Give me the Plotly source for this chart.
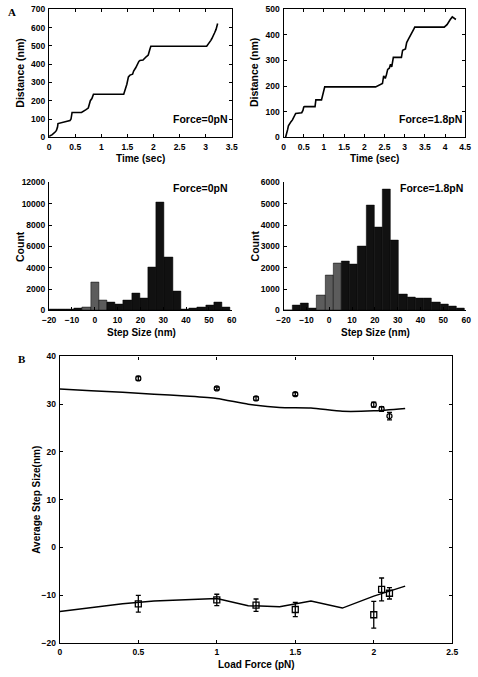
import plotly.graph_objects as go

# ---------------- data ----------------
# Panel A: single-molecule traces
time_0pN = [0.00, 0.06, 0.12, 0.14, 0.16, 0.17, 0.40, 0.42, 0.44, 0.62, 0.70, 0.75, 0.76, 0.79, 0.82, 0.83,
            0.85, 1.43, 1.46, 1.49, 1.52, 1.55, 1.60, 1.62, 1.66, 1.68, 1.72, 1.74, 1.80, 1.86, 1.90, 1.93,
            1.95, 3.02, 3.06, 3.10, 3.12, 3.15, 3.17, 3.20, 3.22, 3.23]
dist_0pN = [5, 15, 30, 38, 55, 75, 92, 100, 136, 136, 150, 160, 170, 200, 212, 225,
            235, 235, 260, 290, 330, 340, 345, 362, 380, 395, 415, 420, 422, 440, 450, 480,
            498, 498, 512, 530, 540, 555, 570, 590, 605, 622]

time_18pN = [0.05, 0.08, 0.10, 0.12, 0.15, 0.18, 0.22, 0.25, 0.28, 0.30, 0.45, 0.48, 0.50, 0.52, 0.78, 0.80,
             0.94, 0.96, 0.98, 1.00, 1.02, 2.28, 2.45, 2.48, 2.52, 2.55, 2.58, 2.62, 2.65, 2.68, 2.72,
             2.92, 2.95, 3.02, 3.05, 3.10, 3.14, 3.18, 3.22, 3.25, 3.98, 4.05, 4.10, 4.13, 4.18, 4.22, 4.27]
dist_18pN = [0, 15, 30, 45, 55, 60, 68, 80, 90, 93, 96, 105, 118, 120, 120, 146,
             146, 160, 175, 190, 197, 197, 210, 240, 230, 245, 265, 270, 285, 275, 312,
             312, 340, 345, 370, 385, 395, 410, 420, 430, 430, 440, 455, 460, 470, 465, 460]

# Step-size histograms (bin centres, nm)
bin_centers = [-18, -14.4, -10.8, -7.2, -3.6, 0, 3.6, 7.2, 10.8, 14.4, 18, 21.6, 25.2, 28.8,
               32.4, 36, 39.6, 43.2, 46.8, 50.4, 54, 57.6]
counts_0pN = [80, 80, 130, 150, 300, 2600, 900, 750, 600, 950, 1600, 1100, 4000, 10100,
              5000, 1800, 100, 200, 300, 500, 750, 250]
counts_18pN = [0, 260, 310, 100, 700, 1650, 2200, 2300, 2150, 3000, 4900, 3900, 5650, 3300,
               750, 600, 580, 580, 400, 300, 200, 100]
gray_bins = [-3.6, 0, 3.6]

# Panel B
load_force = [0.5, 1.0, 1.25, 1.5, 2.0, 2.05, 2.1]
fwd_step = [35.4, 33.3, 31.2, 32.1, 29.9, 29.0, 27.5]
fwd_err = [0.4, 0.3, 0.4, 0.3, 0.5, 0.5, 0.8]
bwd_step = [-11.8, -11.0, -12.1, -13.0, -14.1, -8.8, -9.6]
bwd_err = [1.75, 1.2, 1.3, 1.5, 2.8, 2.4, 1.2]
fit_force = [0, 0.2, 0.4, 0.6, 0.8, 1.0, 1.2, 1.4, 1.6, 1.8, 2.0, 2.2]
fit_fwd = [33.2, 32.8, 32.5, 32.1, 31.7, 31.2, 30.0, 29.3, 29.2, 28.5, 28.6, 29.1]
fit_bwd = [-13.4, -12.6, -11.8, -11.2, -11.0, -10.7, -12.2, -12.4, -11.2, -12.7, -10.2, -8.1]

# ---------------- figure ----------------
W, H = 478, 677
def fx(p): return p / W
def fy(p): return 1 - p / H

FONT = "Liberation Sans, Arial, Helvetica, sans-serif"
tickfont = dict(family=FONT, size=8.5, color="black", weight="bold")

fig = go.Figure()

fig.add_trace(go.Scatter(x=time_0pN, y=dist_0pN, mode="lines", line=dict(color="black", width=1.6),
                         xaxis="x", yaxis="y", showlegend=False))
fig.add_trace(go.Scatter(x=time_18pN, y=dist_18pN, mode="lines", line=dict(color="black", width=1.6),
                         xaxis="x2", yaxis="y2", showlegend=False))

cols0 = ["#5c5c5c" if c in gray_bins else "#111111" for c in bin_centers]
fig.add_trace(go.Bar(x=bin_centers, y=counts_0pN, width=3.6, marker=dict(color=cols0, line=dict(color="black", width=0.5)),
                     xaxis="x3", yaxis="y3", showlegend=False))
fig.add_trace(go.Bar(x=bin_centers, y=counts_18pN, width=3.6, marker=dict(color=cols0, line=dict(color="black", width=0.5)),
                     xaxis="x4", yaxis="y4", showlegend=False))

fig.add_trace(go.Scatter(x=fit_force, y=fit_fwd, mode="lines", line=dict(color="black", width=1.5, shape="spline", smoothing=0.6),
                         xaxis="x5", yaxis="y5", showlegend=False))
fig.add_trace(go.Scatter(x=fit_force, y=fit_bwd, mode="lines", line=dict(color="black", width=1.5),
                         xaxis="x5", yaxis="y5", showlegend=False))
fig.add_trace(go.Scatter(x=load_force, y=fwd_step, mode="markers",
                         marker=dict(symbol="circle-open", size=5, color="black", line=dict(width=1.3)),
                         error_y=dict(type="data", array=fwd_err, color="black", thickness=1.3, width=2.5),
                         xaxis="x5", yaxis="y5", showlegend=False))
fig.add_trace(go.Scatter(x=load_force, y=bwd_step, mode="markers",
                         marker=dict(symbol="square-open", size=6, color="black", line=dict(width=1.3)),
                         error_y=dict(type="data", array=bwd_err, color="black", thickness=1.3, width=2.5),
                         xaxis="x5", yaxis="y5", showlegend=False))

def ax(domain, rng, dtick, anchor, mirror=True, fmt=None):
    d = dict(domain=domain, range=rng, dtick=dtick, anchor=anchor, showgrid=False, zeroline=False,
             showline=True, linecolor="black", linewidth=1.3, ticks="inside", ticklen=3,
             tickcolor="black", tickwidth=1, tickfont=tickfont, mirror="allticks" if mirror else False,
             fixedrange=True, ticklabelstandoff=1, ticklabeloverflow="allow")
    if fmt:
        d["tickformat"] = fmt
    return d

xA1 = [fx(43.3), fx(231)]
xA2 = [fx(284.3), fx(471)]
yTop = [fy(134.3), fy(4.3)]
yHist = [fy(310), fy(180)]
xH2 = [fx(284.3), fx(472)]
xB = [fx(54.3), fx(457.7)]
yB = [fy(647.5), fy(356.7)]

fig.update_layout(
    width=W, height=H, margin=dict(l=0, r=0, t=0, b=0),
    paper_bgcolor="white", plot_bgcolor="white", bargap=0,
    xaxis=ax(xA1, [0, 3.5], 0.5, "y"),
    yaxis=ax(yTop, [0, 700], 100, "x"),
    xaxis2=ax(xA2, [0, 4.5], 0.5, "y2"),
    yaxis2=ax(yTop, [0, 500], 100, "x2"),
    xaxis3=ax(xA1, [-20, 60], 10, "y3", mirror=False),
    yaxis3=ax(yHist, [0, 12000], 2000, "x3", mirror=False, fmt="d"),
    xaxis4=ax(xH2, [-20, 60], 10, "y4", mirror=False),
    yaxis4=ax(yHist, [0, 6000], 1000, "x4", mirror=False, fmt="d"),
    xaxis5=ax(xB, [0, 2.5], 0.5, "y5"),
    yaxis5=ax(yB, [-20, 40], 10, "x5"),
)

def label(text, x, y, size=10, angle=0, family=FONT, weight="bold"):
    fig.add_annotation(text=text, x=fx(x), y=fy(y), xref="paper", yref="paper", showarrow=False,
                       textangle=angle, xanchor="center", yanchor="middle",
                       font=dict(family=family, size=size, color="black", weight=weight))

label("Time (sec)", 137, 156)
label("Time (sec)", 378, 156)
label("Distance (nm)", 13, 69, size=10.5, angle=-90)
label("Distance (nm)", 254, 69, size=10.5, angle=-90)
label("Count", 14, 245, size=10.5, angle=-90)
label("Count", 255, 245, size=10.5, angle=-90)
label("Step Size (nm)", 138, 332)
label("Step Size (nm)", 379, 332)
label("Average Step Size(nm)", 30, 502, angle=-90)
label("Load Force (pN)", 256, 669)
label("Force=0pN", 199, 116, size=10.5)
label("Force=1.8pN", 435, 116, size=10.5)
label("Force=0pN", 199, 186, size=10.5)
label("Force=1.8pN", 436, 186, size=10.5)
label("A", 5, 7, size=11, family="Liberation Serif, Times New Roman, serif")
label("B", 15, 359, size=11, family="Liberation Serif, Times New Roman, serif")

fig.write_html("out.html", config={"displayModeBar": False},
               post_script="document.body.style.margin='0';document.body.style.overflow='hidden';")
